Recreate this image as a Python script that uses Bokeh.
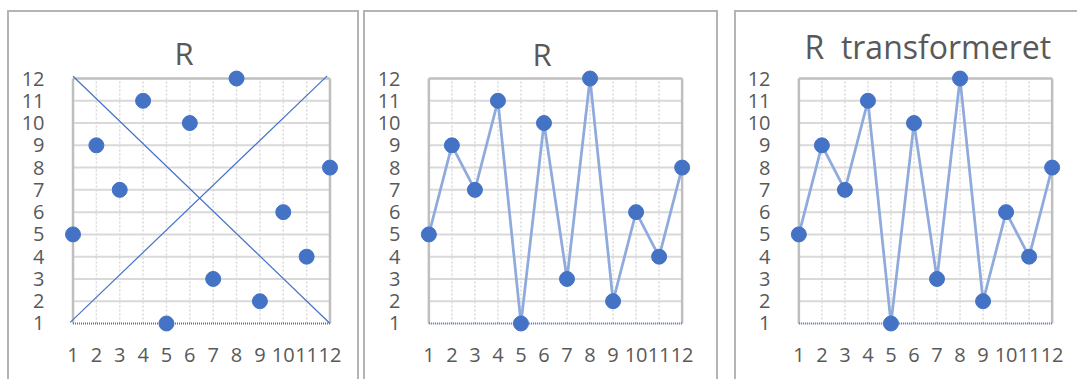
from bokeh.plotting import figure
from bokeh.layouts import row
from bokeh.models import Range1d, FixedTicker, InlineStyleSheet
from bokeh.embed import file_html
from bokeh.resources import INLINE

# ---- data ----
x_pos = [1, 2, 3, 4, 5, 6, 7, 8, 9, 10, 11, 12]
r_values = [5, 9, 7, 11, 1, 10, 3, 12, 2, 6, 4, 8]
x_ticks = [1, 2, 3, 4, 5, 6, 7, 8, 9, 10, 11, 12]
y_ticks = [1, 2, 3, 4, 5, 6, 7, 8, 9, 10, 11, 12]
titles = ["R", "R", "R  transformeret"]
cross_a_x = [1.0, 12.0]
cross_a_y = [12.1, 1.0]
cross_b_x = [0.88, 11.88]
cross_b_y = [1.05, 12.12]

FONT = "Open Sans"
TXT = "#595959"
BLUE = "#4472C4"
LINE_BLUE = "#8FAADC"
GRID = "#d9d9d9"
BORDER = "#bfbfbf"


def make_panel(title, width, lb, rb, tb, bb, tsize, toff, tstand, box, connect, cross):
    pad = 0.45
    xlo, xhi = x_ticks[0], x_ticks[-1]
    ylo, yhi = y_ticks[0], y_ticks[-1]
    p = figure(width=width, height=379, output_backend="svg", toolbar_location=None,
               x_range=Range1d(xlo - pad, xhi + pad), y_range=Range1d(ylo - pad, yhi + pad),
               min_border_left=lb, min_border_right=rb, min_border_top=tb, min_border_bottom=bb,
               title=title.replace("  ", " \u00a0"))
    p.outline_line_color = None
    p.background_fill_color = "white"
    p.border_fill_color = "white"
    p.xgrid.visible = False
    p.ygrid.visible = False

    p.title.align = "left"
    p.title.offset = toff
    p.title.standoff = tstand
    p.title.text_font = FONT
    p.title.text_font_size = f"{tsize}px"
    p.title.text_font_style = "normal"
    p.title.text_color = TXT

    for ax, ticks in ((p.xaxis, x_ticks), (p.yaxis, y_ticks)):
        ax.ticker = FixedTicker(ticks=ticks)
        ax.axis_line_color = None
        ax.major_tick_line_color = None
        ax.minor_tick_line_color = None
        ax.major_label_text_font = FONT
        ax.major_label_text_font_size = "20px"
        ax.major_label_text_color = TXT
    p.yaxis.major_label_standoff = 12
    p.xaxis.major_label_standoff = 8

    # gridlines
    inner_y = y_ticks[1:-1]
    p.segment(x0=[xlo] * len(inner_y), x1=[xhi] * len(inner_y), y0=inner_y, y1=inner_y,
              line_color=GRID, line_width=2)
    inner_x = x_ticks[1:-1]
    p.segment(x0=inner_x, x1=inner_x, y0=[ylo] * len(inner_x), y1=[yhi] * len(inner_x),
              line_color=GRID, line_width=1.5, line_dash="2 2")
    # plot area border (left, top, right)
    p.segment(x0=[xlo, xlo, xhi], y0=[ylo, yhi, ylo], x1=[xlo, xhi, xhi], y1=[yhi, yhi, yhi],
              line_color=BORDER, line_width=2.5)
    # bottom axis line, dotted blue
    p.line(x=[xlo, xhi], y=[ylo, ylo], line_color=BLUE, line_width=2, line_dash="1 1")

    if cross:
        p.line(x=cross_a_x, y=cross_a_y, line_color=BLUE, line_width=1.2)
        p.line(x=cross_b_x, y=cross_b_y, line_color=BLUE, line_width=1.2)
    if connect:
        p.line(x=x_pos, y=r_values, line_color=LINE_BLUE, line_width=2.75)
    p.scatter(x=x_pos, y=r_values, size=15, fill_color=BLUE, line_color=BLUE)

    l, r = box
    css = (":host::after { content: ''; position: absolute; left: %dpx; top: 10px; "
           "width: %dpx; height: 380px; border: 2px solid #b4b4b4; border-bottom: none; "
           "box-sizing: border-box; pointer-events: none; }" % (l, r - l))
    p.stylesheets = [InlineStyleSheet(css=css)]
    return p


p1 = make_panel(titles[0], 360, 62, 20, 68, 46, 31, 112, -11, (7, 359), False, True)
p2 = make_panel(titles[1], 360, 58, 28, 65, 41, 31, 114, -13, (3, 358), True, False)
p3 = make_panel(titles[2], 357, 68, 15, 65, 43, 32, 16, 2, (14, 380), True, False)

layout = row(p1, p2, p3, spacing=0)
open("out.html", "w").write(file_html(layout, INLINE))
